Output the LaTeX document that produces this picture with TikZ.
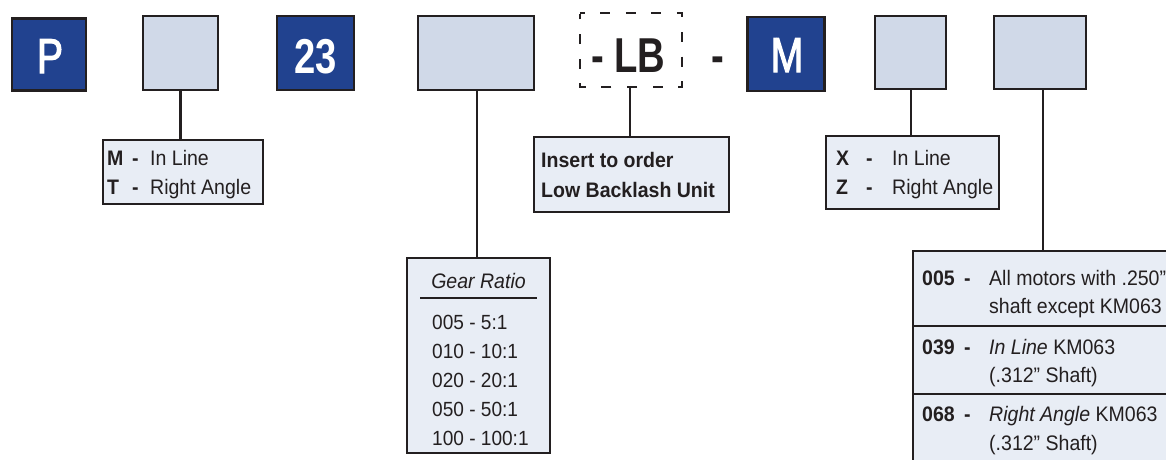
\documentclass[tikz,border=0pt]{standalone}
\usepackage{fontspec}
\setmainfont{Liberation Sans}[FakeStretch=0.93]
\newfontfamily\bigf{Liberation Sans}[FakeStretch=0.78]
\newfontfamily\bigmed{Liberation Sans}[FakeStretch=0.8,FakeBold=2.2]
\definecolor{darkb}{HTML}{21428F}
\definecolor{lightb}{HTML}{D0D9E8}
\definecolor{labelf}{HTML}{E8EDF5}
\definecolor{bordc}{HTML}{231F20}
\begin{document}
\begin{tikzpicture}[x=1pt,y=-1pt,
  codebox/.style={draw=bordc,line width=2.5pt,fill=darkb,inner sep=0pt},
  optbox/.style={draw=bordc,line width=2.5pt,fill=lightb,inner sep=0pt},
  lblbox/.style={draw=bordc,line width=2pt,fill=labelf,inner sep=0pt},
  bigtxt/.style={anchor=base,inner sep=0pt,text=white,font=\bigmed\fontsize{49}{49}\selectfont},
  lbtxt/.style={anchor=base west,inner sep=0pt,text=bordc,font=\bigf\bfseries\fontsize{49}{49}\selectfont},
  conn/.style={draw=bordc,line width=2.5pt},
  txt/.style={anchor=base west,inner sep=0pt,text=bordc,font=\fontsize{21}{21}\selectfont},
  gtxt/.style={anchor=base west,inner sep=0pt,text=bordc,font=\fontsize{20.5}{20.5}\selectfont},
  ttxt/.style={anchor=base west,inner sep=0pt,text=bordc,font=\fontsize{21}{21}\selectfont},
  thinline/.style={draw=bordc,line width=2pt}
]
\useasboundingbox (0,0) rectangle (1166,459);
\clip (0,0) rectangle (1166,459);
\fill[white] (0,0) rectangle (1166,459);

% top row boxes
\node[codebox,minimum width=74pt,minimum height=72pt] (P) at (49,54.5) {};
\node[optbox,minimum width=75pt,minimum height=74pt] (b2) at (180.5,53) {};
\node[codebox,minimum width=77pt,minimum height=74pt] (c23) at (315.5,53) {};
\node[optbox,minimum width=116pt,minimum height=74pt] (b4) at (476,53) {};
\node[inner sep=0pt,minimum width=102pt,minimum height=74pt] (lb) at (631,50) {};
\node[codebox,minimum width=77pt,minimum height=74pt] (M) at (786,54) {};
\node[optbox,minimum width=71pt,minimum height=73pt] (r1) at (910.5,52.5) {};
\node[optbox,minimum width=92pt,minimum height=73pt] (r2) at (1040,52.5) {};

\node[bigtxt] (tP) at (50,73) {P};
\node[bigtxt,font=\bigf\bfseries\fontsize{49}{49}\selectfont] (t23) at (316,73) {23};
\node[bigtxt] (tM) at (787,72) {M};

% dashed LB box
\draw[bordc,line width=2pt,dash pattern=on 5pt off 15.5pt on 10pt off 15.5pt on 10pt off 15.5pt on 10pt off 15.5pt on 10pt off 14.67pt on 10pt off 14.67pt on 10pt off 14.67pt on 10pt off 15.5pt on 10pt off 15.5pt on 10pt off 15.5pt on 10pt off 15.5pt on 10pt off 14.67pt on 10pt off 14.67pt on 10pt off 14.67pt on 5pt off 20pt]
  (lb.north west) -- (lb.north east) -- (lb.south east) -- (lb.south west) -- cycle;
\node[lbtxt] (tdash1) at (591,72) {-};
\node[lbtxt] (tLB) at (614,72) {LB};
\node[lbtxt] (tdash2) at (711,72) {-};

% label boxes
\node[lblbox,minimum width=160pt,minimum height=64pt] (mt) at (183,172) {};
\node[lblbox,minimum width=195pt,minimum height=75pt] (ins) at (631.5,174.5) {};
\node[lblbox,minimum width=173pt,minimum height=73pt] (xz) at (912.5,172.5) {};
\node[lblbox,minimum width=143pt,minimum height=195pt] (gear) at (478.5,355.5) {};
\node[lblbox,minimum width=267pt,minimum height=219pt] (tab) at (1046.5,360.5) {};

% connectors
\draw[conn] (b2.south) -- (b2.south |- mt.north);
\draw[conn] (b4.south) ++(1,0) coordinate (b4s) -- (b4s |- gear.north);
\draw[conn] (lb.south) ++(-1,0) coordinate (lbs) -- (lbs |- ins.north);
\draw[conn] (r1.south) ++(0.5,0) coordinate (r1s) -- (r1s |- xz.north);
\draw[conn] (r2.south) ++(3,0) coordinate (r2s) -- (r2s |- tab.north);

% M/T box text
\node[txt] (m1) at (107,165) {\bfseries M};
\node[txt] (m1d) at (132,165) {\bfseries -};
\node[txt] (m1t) at (150,165) {In Line};
\node[txt] (m2) at (107,194) {\bfseries T};
\node[txt] (m2d) at (132,194) {\bfseries -};
\node[txt] (m2t) at (150,194) {Right Angle};

% insert box text
\node[txt] (i1) at (541,167) {\bfseries Insert to order};
\node[txt] (i2) at (541,197) {\bfseries Low Backlash Unit};

% X/Z box text
\node[txt] (x1) at (836,165) {\bfseries X};
\node[txt] (x1d) at (866,165) {\bfseries -};
\node[txt] (x1t) at (892,165) {In Line};
\node[txt] (z1) at (836,194) {\bfseries Z};
\node[txt] (z1d) at (866,194) {\bfseries -};
\node[txt] (z1t) at (892,194) {Right Angle};

% gear ratio box
\node[gtxt,anchor=base,font=\fontsize{21}{21}\selectfont] (gh) at (478.5,288) {\itshape Gear Ratio};
\draw[thinline] (420,298) -- (537,298);
\node[gtxt] (g1) at (432,329) {005 - 5:1};
\node[gtxt] (g2) at (432,358) {010 - 10:1};
\node[gtxt] (g3) at (432,387) {020 - 20:1};
\node[gtxt] (g4) at (432,416) {050 - 50:1};
\node[gtxt] (g5) at (432,445) {100 - 100:1};

% shaft table
\draw[thinline] (tab.west |- 0,326) -- (tab.east |- 0,326);
\draw[thinline] (tab.west |- 0,394) -- (tab.east |- 0,394);
\node[ttxt] (s1) at (922,285) {\bfseries 005};
\node[ttxt] (s1d) at (964,285) {\bfseries -};
\node[ttxt] (s1t) at (989,285) {All motors with .250”};
\node[ttxt] (s1u) at (989,313) {shaft except KM063};
\node[ttxt] (s2) at (922,354) {\bfseries 039};
\node[ttxt] (s2d) at (964,354) {\bfseries -};
\node[ttxt] (s2t) at (989,354) {\itshape In Line\/\upshape\ KM063};
\node[ttxt] (s2u) at (989,382) {(.312” Shaft)};
\node[ttxt] (s3) at (922,421) {\bfseries 068};
\node[ttxt] (s3d) at (964,421) {\bfseries -};
\node[ttxt] (s3t) at (989,421) {\itshape Right Angle\/\upshape\ KM063};
\node[ttxt] (s3u) at (989,450) {(.312” Shaft)};
\end{tikzpicture}
\end{document}
